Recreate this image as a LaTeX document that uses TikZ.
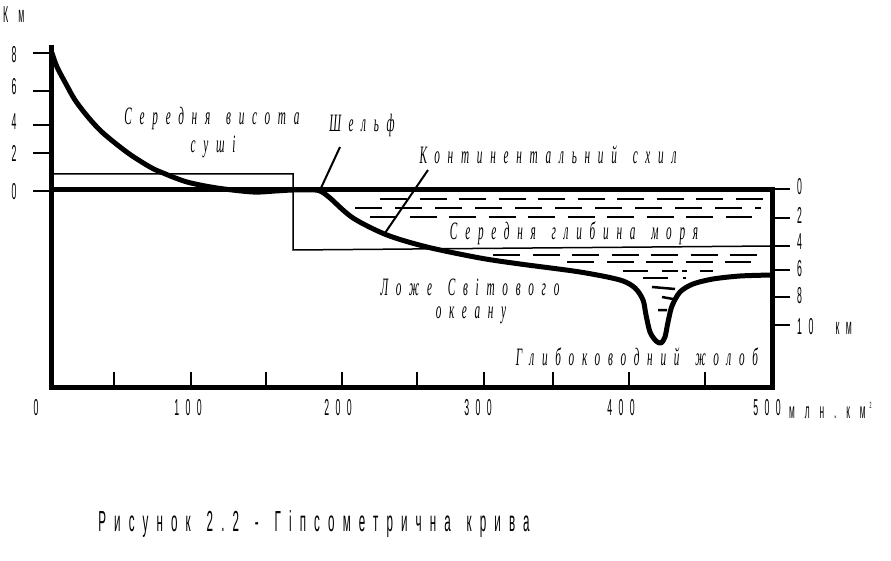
\documentclass[tikz,border=0pt]{standalone}
\usepackage{fontspec}
\setmainfont{Liberation Serif}
\newfontfamily\labfont[FakeStretch=0.45,LetterSpace=31,WordSpace=1.5]{Liberation Serif}
\newfontfamily\numfont[FakeStretch=0.38,LetterSpace=28,WordSpace=2.5]{Liberation Sans}
\newfontfamily\unitfont[FakeStretch=0.38,LetterSpace=45]{Liberation Sans}
\newfontfamily\capfont[FakeStretch=0.4,LetterSpace=28,WordSpace=1.4]{Liberation Sans}

\begin{document}
\begin{tikzpicture}[x=1pt,y=-1pt]
    \tikzstyle{every node}=[inner sep=0pt]
    \tikzstyle{axis}=[line width=5pt]
    \tikzstyle{tick}=[line width=2pt]
    \tikzstyle{thin}=[line width=1.5pt]
    \tikzstyle{curve}=[line width=5pt,line join=round,line cap=round]
    \tikzstyle{water}=[line width=2.5pt,dash pattern=on 27pt off 12.5pt]
    \tikzstyle{waterbit}=[line width=2.5pt]
    \tikzstyle{pointer}=[line width=2pt]
    \tikzstyle{lab}=[font={\labfont\itshape\fontsize{25}{25}\selectfont}]
    \tikzstyle{num}=[font={\numfont\fontsize{23}{23}\selectfont}]
    \tikzstyle{capt}=[font={\capfont\fontsize{29}{29}\selectfont}]
    \useasboundingbox (0,0) rectangle (891,561);

    % axes
    \draw[axis] (51,45) -- (51,387) -- (772,387) -- (772,187);
    \draw[axis] (51,190) -- (772,190);
    \draw[tick] (33,53) -- (51,53) (33,91) -- (51,91) (33,125) -- (51,125)
      (33,153) -- (51,153) (33,191) -- (51,191);
    \draw[tick] (772,189) -- (790,189) (772,218) -- (790,218) (772,246) -- (790,246)
      (772,270) -- (790,270) (772,297) -- (790,297) (772,325) -- (790,325);
    \draw[tick] (114,372) -- (114,387) (191,372) -- (191,387) (266,372) -- (266,387)
      (342,372) -- (342,387) (417,372) -- (417,387) (484,372) -- (484,387)
      (553,372) -- (553,387) (629,372) -- (629,387) (705,372) -- (705,387);

    % mean land height and mean sea depth
    \draw[thin] (51,174) -- (293,174) -- (293,250) -- (772,246);

    % water
    \draw[water] (380,199) -- (763,199);
    \draw[water,dash pattern=on 27pt off 13pt] (355,208) -- (761,208);
    \draw[water] (370,217) -- (752,217);
    \draw[water] (493,255) -- (757,255);
    \draw[water] (567,262) -- (751,262);
    \draw[waterbit] (623,271) -- (648,271) (662,271) -- (678,271) (682,271) -- (687,271)
      (700,271) -- (713,271);
    \draw[waterbit] (643,278) -- (668,278) (683,278) -- (686,278);
    \draw[waterbit] (652,287) -- (675,289) (662,297) -- (673,299) (658,310) -- (667,310);

    % hypsometric curve
    \draw[curve] plot[smooth,tension=0.5] coordinates {(52,53) (57,67) (66,84) (75,100)
      (88,117) (103,133) (128,153) (150,167) (163,173) (187,182) (217,188) (253,192)
      (275,191) (293,190) (315,190) (322,192) (330,198) (353,218) (387,235) (427,247)
      (480,258) (520,264) (580,272) (620,280) (635,288) (643,300) (646,315) (650,332)
      (656,341) (661,343) (665,337) (668,322) (672,306) (680,292) (693,284) (713,279)
      (740,276) (772,275)};

    % scale labels
    \node[num,anchor=west] (km) at (3,15) {К\hspace{10pt}м};
    \node[num] (l8) at (14,55) {8};
    \node[num] (l6) at (14,87) {6};
    \node[num] (l4) at (14,122) {4};
    \node[num] (l2) at (14,153) {2};
    \node[num] (l0) at (14,192) {0};
    \node[num,anchor=west] (r0) at (797,187) {0};
    \node[num,anchor=west] (r2) at (797,215) {2};
    \node[num,anchor=west] (r4) at (797,242) {4};
    \node[num,anchor=west] (r6) at (797,269) {6};
    \node[num,anchor=west] (r8) at (797,296) {8};
    \node[num,anchor=west] (r10) at (797,327) {10 км};
    \node[num] (b0) at (36,408) {0};
    \node[num] (b100) at (188,408) {100};
    \node[num] (b200) at (338,408) {200};
    \node[num] (b300) at (478,408) {300};
    \node[num] (b400) at (621,408) {400};
    \node[num] (b500) at (767,408) {500};
    \node[num,anchor=west,font={\unitfont\fontsize{22}{22}\selectfont}] (unit) at (789,410)
      {млн.км\hspace{4pt}\raisebox{10pt}{\fontsize{9}{9}\selectfont 2}};

    % region labels
    \node[lab] (land) at (212,118) {Середня висота};
    \node[lab] (land2) at (213,147) {суші};
    \node[lab] (shelf) at (362,125) {Шельф};
    \node[lab] (slope) at (548,155) {Континентальний схил};
    \node[lab] (depth) at (574,233) {Середня глибина моря};
    \node[lab] (floor) at (470,287) {Ложе Світового};
    \node[lab] (floor2) at (471,315) {океану};
    \node[lab] (trench) at (637,357) {Глибоководний жолоб};
    \coordinate (shelftop) at (340,147);
    \coordinate (shelfend) at (321,188);
    \coordinate (slopetop) at (428,170);
    \coordinate (slopeend) at (385,233);
    \draw[pointer] (shelftop) -- (shelfend);
    \draw[pointer] (slopetop) -- (slopeend);

    \node[capt] (caption) at (314,524) {Рисунок 2.2 - Гіпсометрична крива};
\end{tikzpicture}
\end{document}
